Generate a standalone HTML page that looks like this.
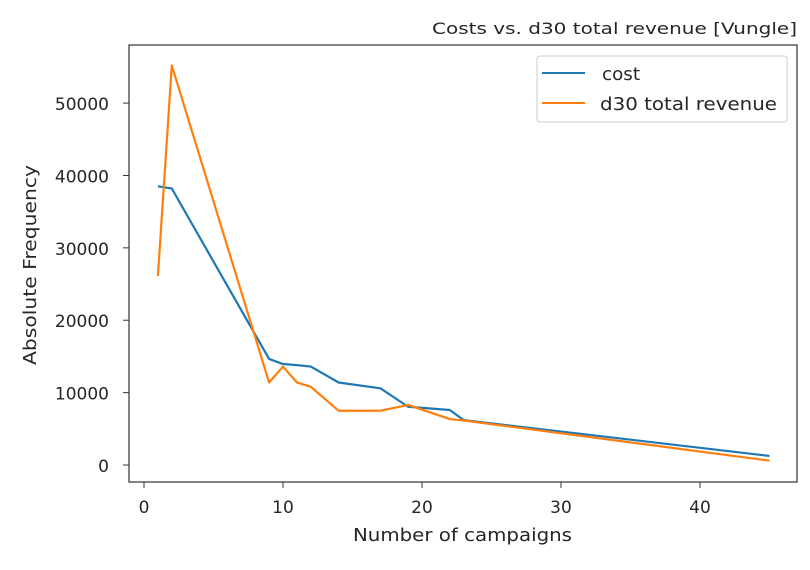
<!DOCTYPE html>
<html><head><meta charset="utf-8"><style>
body{margin:0;background:#fff;font-family:"DejaVu Sans","Liberation Sans",sans-serif;}
svg text{font-family:"DejaVu Sans","Liberation Sans",sans-serif;fill:#262626;}
</style></head><body>
<svg id="chart" width="810" height="566">
<g id="axes"></g>
<g id="lines"></g>
<text x="432" y="34" font-size="16" textLength="365" lengthAdjust="spacingAndGlyphs">Costs vs. d30 total revenue [Vungle]</text>
<text x="353" y="541" font-size="17.5" textLength="219" lengthAdjust="spacingAndGlyphs">Number of campaigns</text>
<text transform="translate(36,365) rotate(-90)" font-size="17.5" textLength="200" lengthAdjust="spacingAndGlyphs">Absolute Frequency</text>
<g>
<rect x="537" y="56" width="250" height="66" rx="3" fill="#fff" stroke="#ccc"/>
<line x1="542" y1="73" x2="585" y2="73" stroke="#1f77b4" stroke-width="2"/>
<text x="602" y="80" font-size="17.5" textLength="38" lengthAdjust="spacingAndGlyphs">cost</text>
<line x1="542" y1="103" x2="585" y2="103" stroke="#ff7f0e" stroke-width="2"/>
<text x="600" y="110" font-size="17.5" textLength="177" lengthAdjust="spacingAndGlyphs">d30 total revenue</text>
</g>
</svg>
<script>
const xs = [1,2,9,10,11,12,14,17,19,22,23,45];
const costVals = [38500,38200,14650,13950,13800,13600,11400,10600,8050,7600,6200,1250];
const revenueVals = [26100,55200,11400,13600,11400,10800,7500,7500,8300,6350,6150,600];
const xTicks = [0,10,20,30,40];
const yTicks = [0,10000,20000,30000,40000,50000];
const L=129,R=797,T=45,B=482;
function sx(v){return 144+v*13.9;}
function sy(v){return 465-v*0.007238;}
const NS="http://www.w3.org/2000/svg";
const axes=document.getElementById('axes');
const frame=document.createElementNS(NS,'rect');
frame.setAttribute('x',L);frame.setAttribute('y',T);frame.setAttribute('width',R-L);frame.setAttribute('height',B-T);
frame.setAttribute('fill','none');frame.setAttribute('stroke','#333');frame.setAttribute('stroke-width','1.2');


axes.appendChild(frame);
xTicks.forEach(t=>{
 const l=document.createElementNS(NS,'line');
 l.setAttribute('x1',sx(t));l.setAttribute('x2',sx(t));l.setAttribute('y1',B);l.setAttribute('y2',B+6);l.setAttribute('stroke','#333');
 
 
 axes.appendChild(l);
 const tx=document.createElementNS(NS,'text');
 tx.setAttribute('x',sx(t));tx.setAttribute('y',B+31);tx.setAttribute('text-anchor','middle');tx.setAttribute('font-size','17');
 tx.textContent=t;
 
 
 axes.appendChild(tx);
});
yTicks.forEach(t=>{
 const l=document.createElementNS(NS,'line');
 l.setAttribute('x1',L-6);l.setAttribute('x2',L);l.setAttribute('y1',sy(t));l.setAttribute('y2',sy(t));l.setAttribute('stroke','#333');
 
 
 axes.appendChild(l);
 const tx=document.createElementNS(NS,'text');
 tx.setAttribute('x',L-20);tx.setAttribute('y',sy(t)+7);tx.setAttribute('text-anchor','end');tx.setAttribute('font-size','17');
 tx.textContent=t;
 
 
 axes.appendChild(tx);
});
const lines=document.getElementById('lines');
function draw(vals,color,name){
 const p=document.createElementNS(NS,'polyline');
 p.setAttribute('points',xs.map((x,i)=>sx(x)+','+sy(vals[i])).join(' '));
 p.setAttribute('fill','none');p.setAttribute('stroke',color);p.setAttribute('stroke-width','2.2');p.setAttribute('stroke-linejoin','round');
 
 
 lines.appendChild(p);
}
draw(costVals,'#1f77b4','cost-line');
draw(revenueVals,'#ff7f0e','revenue-line');
</script>
</body></html>
